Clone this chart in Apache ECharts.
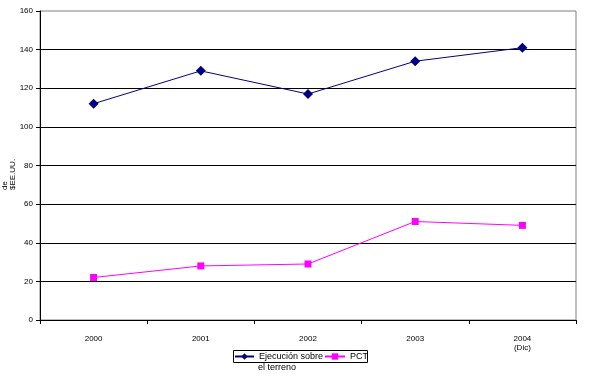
<!DOCTYPE html>
<html><head><meta charset="utf-8">
<script src="https://cdn.jsdelivr.net/npm/echarts@6/dist/echarts.min.js"></script>
<style>html,body{margin:0;padding:0;background:#fff}#c{width:604px;height:379px}</style>
</head><body><div id="c"></div>
<script>
var categories = ['2000', '2001', '2002', '2003', '2004\n(Dic)'];
var seriesNames = ['Ejecución sobre el terreno', 'PCT'];
var ejecucion = [112, 129, 117, 134, 141];
var pct = [22, 28, 29, 51, 49];
var yTicks = [0, 20, 40, 60, 80, 100, 120, 140, 160];

var chart = echarts.init(document.getElementById('c'));
var font = 'Liberation Sans, Arial, sans-serif';
var legendCommon = {
  top: 352, itemGap: 0, itemHeight: 8, padding: 0,
  textStyle: { fontSize: 9, color: '#000', fontFamily: font },
  formatter: function (n) { return n === seriesNames[0] ? 'Ejecución sobre' : n; }
};
chart.setOption({
  animation: false,
  textStyle: { fontFamily: font },
  grid: { left: 40, right: 28, top: 11, bottom: 59, show: true, borderColor: '#808080', borderWidth: 1 },
  xAxis: {
    type: 'category', data: categories, boundaryGap: true,
    axisLine: { lineStyle: { color: '#000', width: 1 } },
    axisTick: { show: true, length: 4, lineStyle: { color: '#000' } },
    axisLabel: { color: '#000', fontSize: 8, margin: 14, lineHeight: 9, fontFamily: font }
  },
  yAxis: {
    type: 'value', min: yTicks[0], max: yTicks[yTicks.length - 1], interval: 20,
    axisLine: { show: true, lineStyle: { color: '#000', width: 1 } },
    axisTick: { show: true, length: 4, lineStyle: { color: '#000' } },
    axisLabel: { color: '#000', fontSize: 8, margin: 7, fontFamily: font },
    splitLine: { show: true, showMinLine: false, showMaxLine: false, lineStyle: { color: '#000', width: 1 } }
  },
  legend: [
    Object.assign({ data: [seriesNames[0]], left: 234, itemWidth: 19 }, legendCommon),
    Object.assign({ data: [seriesNames[1]], left: 324, itemWidth: 20 }, legendCommon)
  ],
  graphic: [
    { type: 'rect', shape: { x: 233.5, y: 350.5, width: 134, height: 12 }, style: { fill: 'none', stroke: '#000', lineWidth: 1 }, silent: true },
    { type: 'text', x: 258, y: 363, style: { text: 'el terreno', fontSize: 9, fill: '#000', fontFamily: font } },
    { type: 'text', x: 9, y: 190, rotation: Math.PI / 2, style: { text: 'de\n$EE.UU.', fontSize: 8, lineHeight: 8, fill: '#000', fontFamily: font, align: 'left', verticalAlign: 'middle' } }
  ],
  series: [
    { name: seriesNames[0], type: 'line', data: ejecucion, symbol: 'diamond', symbolSize: 10,
      lineStyle: { color: '#000080', width: 1 }, itemStyle: { color: '#000080' } },
    { name: seriesNames[1], type: 'line', data: pct, symbol: 'rect', symbolSize: 7,
      lineStyle: { color: '#FF00FF', width: 1 }, itemStyle: { color: '#FF00FF' } }
  ]
});
</script></body></html>
